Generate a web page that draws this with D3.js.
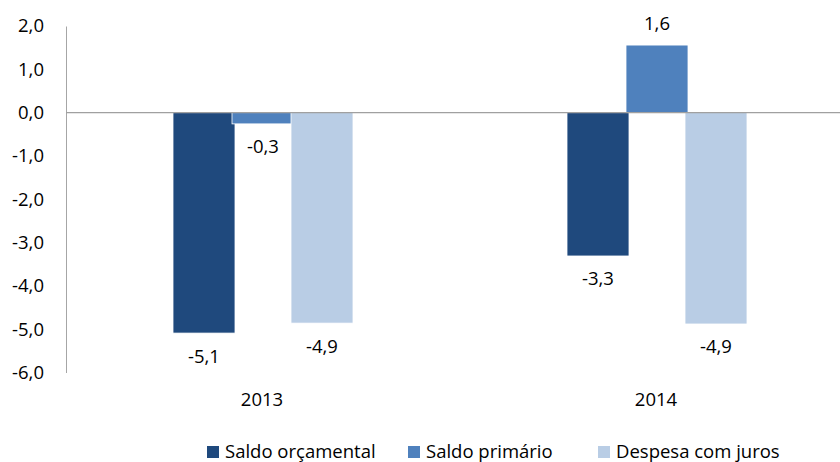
<!DOCTYPE html>
<html>
<head>
<meta charset="utf-8">
<script src="https://cdn.jsdelivr.net/npm/d3@7"></script>
<style>
  body { margin: 0; background: #fff; }
  svg text { font-family: "Open Sans", sans-serif; fill: #000; }
</style>
</head>
<body>
<div id="container"></div>
<script>
// chart data
var years = ["2013", "2014"];
var seriesNames = ["Saldo orçamental", "Saldo primário", "Despesa com juros"];
var saldoOrcamental = [-5.09, -3.31];
var saldoPrimario = [-0.26, 1.56];
var despesaJuros = [-4.86, -4.88];
var yTicks = [2, 1, 0, -1, -2, -3, -4, -5, -6];

var colors = ["#1f497d", "#4f81bd", "#b9cde5"];
var values = [saldoOrcamental, saldoPrimario, despesaJuros];

var w = 840, h = 462;
var fs = "18.5px";

var svg = d3.select("div#container")
  .append("svg")
  .attr("width", w)
  .attr("height", h);

var fmt = function(v) { return d3.format(".1f")(v).replace(".", ",").replace("−", "-"); };

// scales
var y = d3.scaleLinear().domain([-6, 2]).range([372.5, 26]);
var x0 = d3.scaleBand().domain(years).range([66, 854]);
var x1 = d3.scaleBand().domain(seriesNames).range([-90, 87]);

// y axis
var yAxis = d3.axisLeft(y).tickValues(yTicks).tickSize(0).tickPadding(22).tickFormat(fmt);
var gy = svg.append("g").attr("transform", "translate(66,0)").call(yAxis);
gy.select(".domain").attr("stroke", "#a6a6a6");
gy.selectAll("text").style("font-size", fs).attr("fill", "#000");

// bars
var data = [];
seriesNames.forEach(function(s, i) {
  years.forEach(function(yr, j) {
    data.push({ series: s, year: yr, value: values[i][j], color: colors[i] });
  });
});

svg.append("g").selectAll("rect")
  .data(data)
  .enter().append("rect")
  .attr("x", function(d) { return x0(d.year) + x0.bandwidth() / 2 + x1(d.series); })
  .attr("width", x1.bandwidth() + 3)
  .attr("y", function(d) { return y(Math.max(0, d.value)); })
  .attr("height", function(d) { return Math.abs(y(d.value) - y(0)); })
  .attr("fill", function(d) { return d.color; })
  .attr("stroke", "#fff")
  .attr("stroke-width", 0.8);

// zero line
svg.append("line")
  .attr("x1", 66).attr("x2", w)
  .attr("y1", y(0)).attr("y2", y(0))
  .attr("stroke", "#a0a0a0")
  .attr("stroke-width", 1.3);

// data labels
svg.append("g").selectAll("text")
  .data(data)
  .enter().append("text")
  .attr("x", function(d) { return x0(d.year) + x0.bandwidth() / 2 + x1(d.series) + (x1.bandwidth() + 3) / 2; })
  .attr("y", function(d) { return d.value < 0 ? y(d.value) + 23 : y(d.value) - 22; })
  .attr("dy", "0.35em")
  .attr("text-anchor", "middle")
  .style("font-size", fs)
  .text(function(d) { return fmt(d.value); });

// category labels
svg.append("g").selectAll("text")
  .data(years)
  .enter().append("text")
  .attr("x", function(d) { return x0(d) + x0.bandwidth() / 2 - 1; })
  .attr("y", 400)
  .attr("dy", "0.35em")
  .attr("text-anchor", "middle")
  .style("font-size", fs)
  .text(function(d) { return d; });

// legend
var legendX = [207, 408, 598];
var legend = svg.append("g").selectAll("g")
  .data(seriesNames)
  .enter().append("g")
  .attr("transform", function(d, i) { return "translate(" + legendX[i] + ",446)"; });

legend.append("rect")
  .attr("width", 12).attr("height", 12)
  .attr("fill", function(d, i) { return colors[i]; });

legend.append("text")
  .attr("x", 18).attr("y", 6)
  .attr("dy", "0.35em")
  .style("font-size", fs)
  .text(function(d) { return d; });
</script>
</body>
</html>
